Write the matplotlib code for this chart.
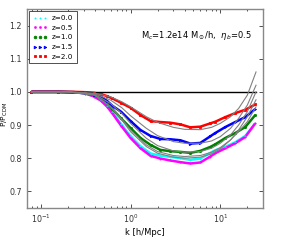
import matplotlib
matplotlib.use("Agg")
import matplotlib.pyplot as plt
from matplotlib.lines import Line2D

# measured k points [h/Mpc]
k = [0.0785, 0.157, 0.236, 0.314, 0.393, 0.471, 0.55, 0.628, 0.785, 1.0, 1.29, 1.67,
     2.15, 2.78, 3.59, 4.64, 5.99, 7.74, 8.8, 11.4, 14.7, 19.0, 24.5]

z_labels = ["z=0.0", "z=0.5", "z=1.0", "z=1.5", "z=2.0"]
colors = ["cyan", "magenta", "green", "blue", "red"]
markers = ["+", ".", "o", ">", "s"]

p_z00 = [1.0, 1.0, 0.999, 0.995, 0.987, 0.975, 0.957, 0.938, 0.903, 0.866, 0.836,
         0.814, 0.808, 0.804, 0.800, 0.795, 0.799, 0.816, 0.824, 0.834, 0.848, 0.867, 0.905]
p_z05 = [1.0, 1.0, 0.999, 0.995, 0.986, 0.973, 0.955, 0.935, 0.898, 0.861, 0.830,
         0.807, 0.799, 0.793, 0.788, 0.784, 0.787, 0.805, 0.815, 0.830, 0.845, 0.864, 0.905]
p_z10 = [1.0, 1.0, 0.999, 0.996, 0.990, 0.980, 0.965, 0.948, 0.920, 0.891, 0.861,
         0.840, 0.825, 0.821, 0.819, 0.816, 0.822, 0.834, 0.842, 0.861, 0.876, 0.894, 0.930]
p_z15 = [1.0, 1.0, 0.999, 0.997, 0.992, 0.985, 0.972, 0.958, 0.940, 0.912, 0.885,
         0.867, 0.858, 0.857, 0.854, 0.844, 0.846, 0.866, 0.876, 0.894, 0.909, 0.924, 0.948]
p_z20 = [1.0, 1.0, 1.0, 0.999, 0.997, 0.993, 0.987, 0.980, 0.967, 0.952, 0.930,
         0.912, 0.909, 0.907, 0.902, 0.893, 0.895, 0.905, 0.910, 0.924, 0.936, 0.946, 0.962]
data = [p_z00, p_z05, p_z10, p_z15, p_z20]

# model curves (gray)
km = [0.0785, 0.2, 0.4, 0.6, 0.8, 1.0, 1.5, 2.0, 3.0, 4.0, 6.0, 8.0, 10.0, 13.0,
      16.0, 20.0, 25.0]
m_z00 = [1.0, 1.0, 0.990, 0.955, 0.918, 0.885, 0.840, 0.820, 0.808, 0.805, 0.808,
         0.818, 0.832, 0.855, 0.880, 0.910, 0.955]
m_z05 = [1.0, 1.0, 0.990, 0.955, 0.915, 0.880, 0.835, 0.815, 0.803, 0.800, 0.803,
         0.813, 0.828, 0.855, 0.885, 0.925, 0.976]
m_z10 = [1.0, 1.0, 0.992, 0.965, 0.935, 0.905, 0.860, 0.838, 0.822, 0.818, 0.820,
         0.830, 0.845, 0.870, 0.900, 0.940, 1.000]
m_z15 = [1.0, 1.0, 0.994, 0.975, 0.952, 0.928, 0.890, 0.868, 0.850, 0.845, 0.845,
         0.852, 0.865, 0.890, 0.920, 0.960, 1.020]
m_z20 = [1.0, 1.0, 0.996, 0.985, 0.970, 0.955, 0.925, 0.908, 0.893, 0.887, 0.886,
         0.893, 0.905, 0.925, 0.950, 0.990, 1.060]
models = [m_z00, m_z05, m_z10, m_z15, m_z20]

k_ref = [0.077, 25.0]
p_ref = [1.0, 1.0]

fig = plt.figure(figsize=(2.86, 2.49), dpi=100)
ax = fig.add_axes([0.094, 0.165, 0.826, 0.799])

for vals, c in zip(data, colors):
    ax.plot(k, vals, color=c, lw=1.8, zorder=2, solid_capstyle="butt")
ax.plot(k_ref, p_ref, color="black", lw=1.0, zorder=3)
for vals, c, m in zip(data, colors, markers):
    ax.plot(k, vals, color=c, ls="none", marker=m, ms=1.6, mew=0.6, zorder=4)
for vals in models:
    ax.plot(km, vals, color="gray", lw=0.8, zorder=5)

ax.set_xscale("log")
ax.set_xlim(0.07, 30)
ax.set_ylim(0.65, 1.25)
ax.set_yticks([0.7, 0.8, 0.9, 1.0, 1.1, 1.2])
ax.tick_params(which="both", direction="in", top=True, right=True, labelsize=5.7,
               colors="#333333", length=3, width=0.6)
ax.tick_params(which="minor", length=1.5)
for s in ax.spines.values():
    s.set_color("#888888")
    s.set_linewidth(1.0)

ax.set_xlabel("k [h/Mpc]", fontsize=6, labelpad=2)
ax.set_ylabel(r"P/P$_{\rm CDM}$", fontsize=5.3)
ax.yaxis.set_label_coords(-0.071, 0.47)

ax.text(0.483, 0.865, r"M$_c$=1.2e14 M$_\odot$/h,  $\eta_b$=0.5", transform=ax.transAxes,
        fontsize=6, ha="left", va="center")

handles = [Line2D([], [], color=c, marker=m, linestyle="None", ms=1.9, mew=0.6)
           for c, m in zip(colors, markers)]
handles[1] = Line2D([], [], color=colors[1], marker=markers[1], linestyle="None",
                    ms=3.0, mew=0.4)
leg = ax.legend(handles=handles, labels=z_labels, loc="upper left", numpoints=3,
                fontsize=5.2, fancybox=False, edgecolor="#333333", framealpha=1,
                handlelength=2.0, handletextpad=0.6, borderpad=0.5,
                labelspacing=0.5, borderaxespad=0.35)
leg.get_frame().set_linewidth(0.6)

fig.savefig("out.png", dpi=100)
